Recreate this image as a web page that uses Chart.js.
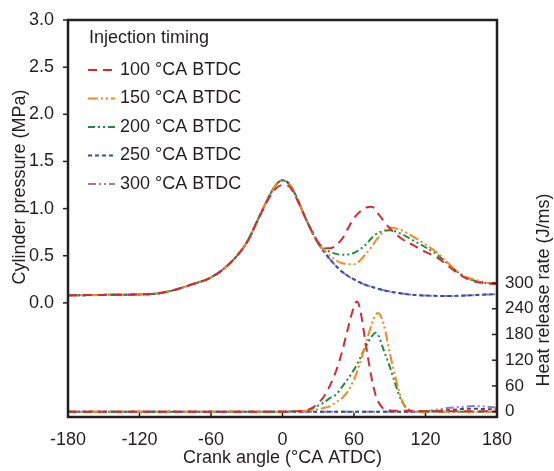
<!DOCTYPE html>
<html>
<head>
<meta charset="utf-8">
<script src="https://cdn.jsdelivr.net/npm/chart.js@4.4.1/dist/chart.umd.min.js"></script>
<style>
  html, body { margin: 0; padding: 0; background: #ffffff; }
  #contenedor { width: 554px; height: 471px; }
</style>
</head>
<body>
<div id="contenedor"><canvas id="graficaCombustion"></canvas></div>
<script>
// Datos
const angulosPresion = [-180, -150, -120, -105, -90, -75, -60, -45, -30, -20, -10, -5, 0, 5, 10, 20, 30, 35, 40, 50, 60, 70, 75, 80, 90, 100, 110, 120, 130, 140, 150, 160, 170, 180];
const presion100 = [0.08, 0.085, 0.09, 0.10, 0.14, 0.20, 0.27, 0.41, 0.64, 0.90, 1.14, 1.22, 1.25, 1.24, 1.15, 0.88, 0.64, 0.58, 0.58, 0.68, 0.90, 1.01, 1.02, 0.95, 0.79, 0.68, 0.61, 0.54, 0.48, 0.38, 0.29, 0.23, 0.21, 0.20];
const presion150 = [0.08, 0.085, 0.09, 0.10, 0.14, 0.20, 0.27, 0.41, 0.64, 0.90, 1.16, 1.26, 1.30, 1.27, 1.17, 0.88, 0.63, 0.56, 0.50, 0.42, 0.41, 0.52, 0.60, 0.69, 0.80, 0.77, 0.70, 0.62, 0.53, 0.41, 0.30, 0.25, 0.22, 0.20];
const presion200 = [0.08, 0.085, 0.09, 0.10, 0.14, 0.20, 0.27, 0.41, 0.64, 0.90, 1.16, 1.26, 1.30, 1.27, 1.17, 0.88, 0.64, 0.58, 0.54, 0.51, 0.53, 0.62, 0.69, 0.74, 0.77, 0.73, 0.66, 0.59, 0.51, 0.40, 0.30, 0.24, 0.21, 0.20];
const presion250 = [0.08, 0.085, 0.09, 0.10, 0.14, 0.20, 0.27, 0.41, 0.64, 0.90, 1.16, 1.26, 1.30, 1.27, 1.17, 0.88, 0.63, 0.54, 0.46, 0.33, 0.25, 0.19, 0.17, 0.15, 0.12, 0.10, 0.085, 0.078, 0.074, 0.073, 0.076, 0.082, 0.088, 0.092];
const presion300 = [0.08, 0.085, 0.09, 0.10, 0.14, 0.20, 0.27, 0.41, 0.64, 0.90, 1.16, 1.26, 1.30, 1.27, 1.17, 0.88, 0.63, 0.54, 0.46, 0.33, 0.25, 0.19, 0.17, 0.15, 0.12, 0.10, 0.085, 0.078, 0.074, 0.073, 0.076, 0.082, 0.088, 0.092];

const angulosCalor = [-180, -120, -60, 0, 10, 20, 25, 30, 35, 40, 45, 50, 55, 60, 62.5, 65, 70, 75, 78, 80, 85, 90, 95, 100, 105, 110, 120, 130, 140, 150, 160, 170, 180];
const calor100 = [0, 0, 0, 0, 1, 3, 9, 20, 36, 62, 95, 140, 195, 245, 257, 240, 155, 75, 40, 25, 6, 3, 2, 2, 2, 2, 1, 1, 1, 1, 1, 1, 1];
const calor150 = [0, 0, 0, 0, 1, 2, 4, 6, 9, 13, 22, 32, 48, 75, 92, 113, 160, 205, 225, 230, 203, 137, 78, 28, 4, 1, 0, 0, 0, 0, 0, 0, 0];
const calor200 = [0, 0, 0, 0, 1, 3, 8, 14, 22, 32, 40, 58, 77, 98, 110, 124, 153, 176, 184, 180, 143, 105, 62, 25, 7, 1, 0, 0, 0, 0, 0, 0, 0];
const calor250 = [0, 0, 0, 0, 0, 0, 0, 0, 0, 0, 0, 0, 0, 0, 0, 0, 0, 0, 0, 0, 0, 0, 0, 0, 0, 0, 0, 2, 4, 6, 7, 6, 5];
const calor300 = [0, 0, 0, 0, 0, 0, 0, 0, 0, 0, 0, 0, 0, 0, 0, 0, 0, 0, 0, 0, 0, 0, 0, 0, 0, 0, 1, 5, 9, 11, 13, 12, 9];

const ticksAngulo = [-180, -120, -60, 0, 60, 120, 180];
const ticksPresion = [0, 0.5, 1.0, 1.5, 2.0, 2.5, 3.0];
const ticksCalor = [0, 60, 120, 180, 240, 300];

const nombresSeries = ['100 °CA BTDC', '150 °CA BTDC', '200 °CA BTDC', '250 °CA BTDC', '300 °CA BTDC'];

// Estilos de cada serie
const estilos = [
    { color: '#d42a32', dash: [9, 6] },
    { color: '#f5871f', dash: [10, 3, 2, 3, 2, 3] },
    { color: '#1e8c3c', dash: [7, 3, 2, 3, 2, 3] },
    { color: '#2f50a8', dash: [4, 3] },
    { color: '#9b78bd', dash: [8, 3, 2, 3, 2, 3] }
];
const colorTexto = '#231f20';
const fuente = '"Liberation Sans", Arial, Helvetica, sans-serif';

const presiones = [presion100, presion150, presion200, presion250, presion300];
const calores = [calor100, calor150, calor200, calor250, calor300];

function armarDataset(angulos, valores, i, eje) {
    return {
        label: nombresSeries[i],
        data: angulos.map((a, k) => ({ x: a, y: valores[k] })),
        yAxisID: eje,
        borderColor: estilos[i].color,
        borderDash: estilos[i].dash,
        borderWidth: 2,
        pointRadius: 0,
        fill: false,
        cubicInterpolationMode: 'monotone'
    };
}

const datasets = [];
presiones.forEach((v, i) => datasets.push(armarDataset(angulosPresion, v, i, 'y')));
calores.forEach((v, i) => datasets.push(armarDataset(angulosCalor, v, i, 'y2')));

// Marco, marcas de los ejes, títulos y leyenda
const decoracion = {
    id: 'decoracion',
    afterDatasetsDraw(chart) {
        const ctx = chart.ctx;
        const a = chart.chartArea;
        const sx = chart.scales.x, sy = chart.scales.y, sy2 = chart.scales.y2;
        ctx.save();

        ctx.strokeStyle = colorTexto;
        ctx.lineWidth = 1.5;
        ctx.setLineDash([]);
        const linea = (x1, y1, x2, y2) => {
            ctx.beginPath(); ctx.moveTo(x1, y1); ctx.lineTo(x2, y2); ctx.stroke();
        };
        sy.ticks.forEach(t => { const p = sy.getPixelForValue(t.value); linea(a.left - 5, p, a.left, p); });
        sy2.ticks.forEach(t => { const p = sy2.getPixelForValue(t.value); linea(a.right - 5, p, a.right, p); });
        sx.ticks.forEach(t => { const p = sx.getPixelForValue(t.value); linea(p, a.bottom - 4, p, a.bottom); });

        ctx.lineWidth = 2.5;
        ctx.strokeRect(a.left, a.top, a.right - a.left, a.bottom - a.top);

        // Títulos de los ejes
        ctx.fillStyle = colorTexto;
        ctx.font = '18px ' + fuente;
        ctx.textAlign = 'center';
        ctx.textBaseline = 'middle';
        ctx.fillText('Crank angle (°CA ATDC)', (a.left + a.right) / 2, 458);

        ctx.save();
        ctx.translate(20, 187);
        ctx.rotate(-Math.PI / 2);
        ctx.fillText('Cylinder pressure (MPa)', 0, 0);
        ctx.restore();

        ctx.save();
        ctx.translate(544, 290);
        ctx.rotate(-Math.PI / 2);
        ctx.fillText('Heat release rate (J/ms)', 0, 0);
        ctx.restore();

        // Leyenda
        ctx.textAlign = 'left';
        ctx.fillText('Injection timing', a.left + 21, a.top + 18);
        nombresSeries.forEach((nombre, i) => {
            const y = a.top + 50 + i * 28.5;
            const x0 = a.left + 20;
            ctx.save();
            ctx.beginPath();
            ctx.rect(x0, y - 3, 27, 6);
            ctx.clip();
            ctx.strokeStyle = estilos[i].color;
            ctx.lineWidth = 2;
            ctx.setLineDash(estilos[i].dash);
            linea(x0, y, x0 + 40, y);
            ctx.restore();
            ctx.fillStyle = colorTexto;
            ctx.fillText(nombre, x0 + 32, y);
        });

        ctx.restore();
    }
};

const ctx = document.getElementById('graficaCombustion').getContext('2d');
new Chart(ctx, {
    type: 'line',
    data: { datasets: datasets },
    options: {
        responsive: true,
        maintainAspectRatio: false,
        animation: false,
        layout: { padding: { top: 20, left: 0, right: 0, bottom: 0 } },
        plugins: {
            legend: { display: false },
            tooltip: { enabled: false }
        },
        scales: {
            x: {
                type: 'linear',
                min: -180,
                max: 180,
                afterBuildTicks: s => { s.ticks = ticksAngulo.map(v => ({ value: v })); },
                afterFit: s => { s.height = 54; },
                grid: { display: false },
                border: { display: false },
                ticks: {
                    color: colorTexto,
                    padding: 4,
                    maxRotation: 0,
                    font: { family: fuente, size: 18 }
                }
            },
            y: {
                type: 'linear',
                position: 'left',
                min: -1.21,
                max: 3.0,
                afterBuildTicks: s => { s.ticks = ticksPresion.map(v => ({ value: v })); },
                afterFit: s => { s.width = 68; },
                grid: { display: false },
                border: { display: false },
                ticks: {
                    color: colorTexto,
                    padding: 6,
                    font: { family: fuente, size: 18 },
                    callback: v => v.toFixed(1)
                }
            },
            y2: {
                type: 'linear',
                position: 'right',
                min: -12.4,
                max: 913,
                afterBuildTicks: s => { s.ticks = ticksCalor.map(v => ({ value: v })); },
                afterFit: s => { s.width = 57; },
                grid: { display: false },
                border: { display: false },
                ticks: {
                    color: colorTexto,
                    padding: 0,
                    font: { family: fuente, size: 17 }
                }
            }
        }
    },
    plugins: [decoracion]
});
</script>
</body>
</html>
